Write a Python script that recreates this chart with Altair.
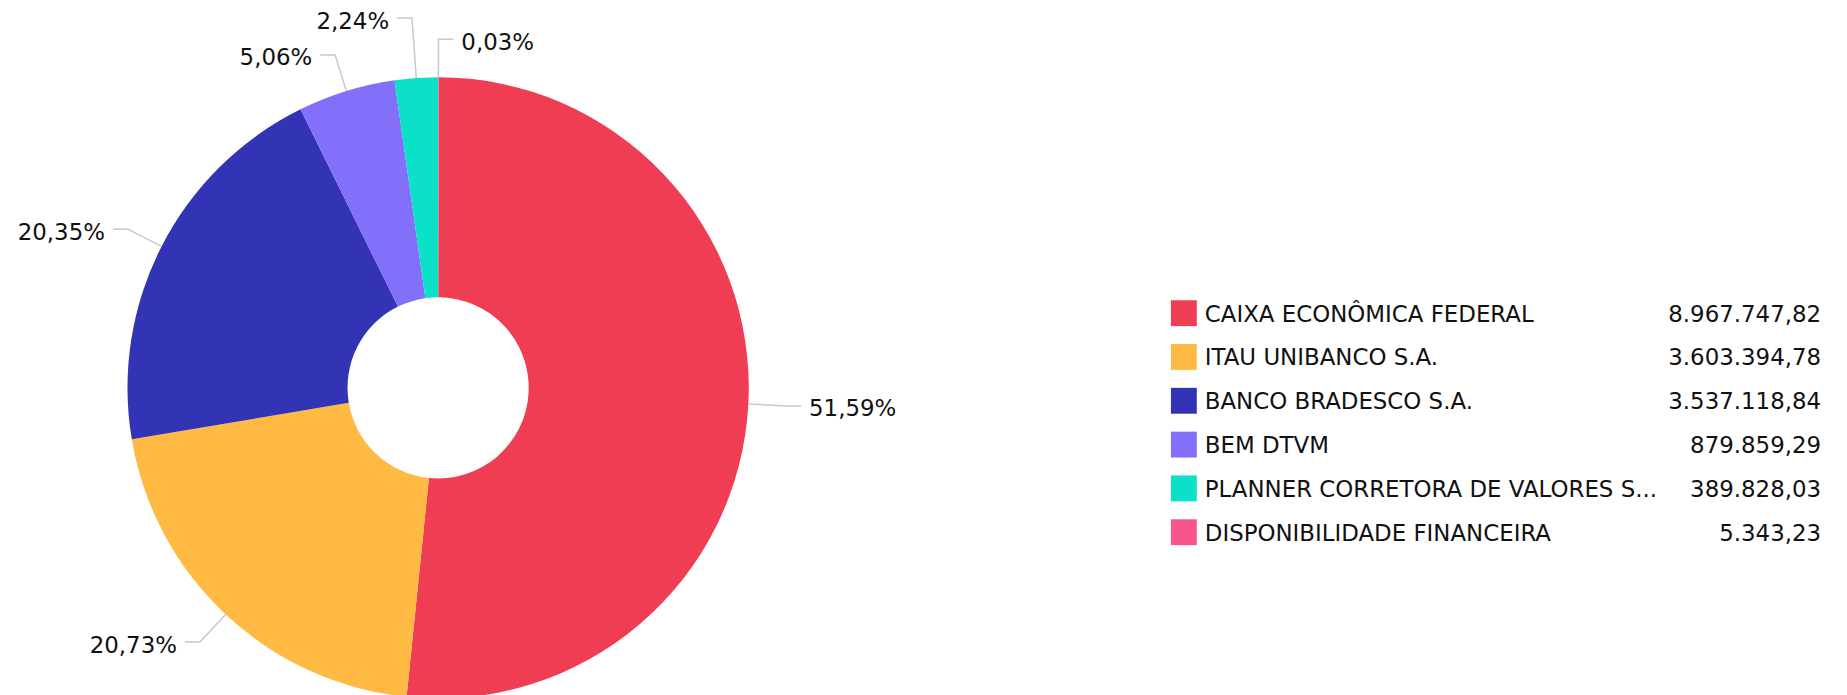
import math
import altair as alt
import pandas as pd

# ---------------- data ----------------
names = [
    "CAIXA ECONÔMICA FEDERAL",
    "ITAU UNIBANCO S.A.",
    "BANCO BRADESCO S.A.",
    "BEM DTVM",
    "PLANNER CORRETORA DE VALORES S...",
    "DISPONIBILIDADE FINANCEIRA",
]
values = [8967747.82, 3603394.78, 3537118.84, 879859.29, 389828.03, 5343.23]
colors = ["#EF3E53", "#FFBA44", "#3333B5", "#8270FB", "#0BE0C8", "#F9558D"]
# position of each slice around the ring, clockwise from 12 o'clock
ring_order = [1, 2, 3, 4, 5, 0]

# ---------------- layout ----------------
PAD_TOP = 12
W, H = 1839, 687 - PAD_TOP
CX, CY = 432, 380 - PAD_TOP
R_OUT, R_IN = 312, 91
LEAD, ARM, GAP, MIN_SEP = 38, 15, 8, 37
FONT = "DejaVu Sans"
FS = 23
TDY = 3.5

total = sum(values)
pct = [v / total * 100 for v in values]


def br_pct(p):
    return f"{p:.2f}".replace(".", ",") + "%"


def br_num(v):
    s = f"{v:,.2f}"
    return s.replace(",", "X").replace(".", ",").replace("X", ".")


# mid angles
order_idx = sorted(range(len(values)), key=lambda i: ring_order[i])
cum = 0.0
mid = {}
for i in order_idx:
    f = values[i] / total
    mid[i] = cum + f / 2
    cum += f

labels = []
for i in range(len(values)):
    a = 2 * math.pi * mid[i]
    dx, dy = math.sin(a), -math.cos(a)
    ex, ey = CX + R_OUT * dx, CY + R_OUT * dy
    ny = CY + (R_OUT + LEAD) * dy
    side = "right" if dx >= 0 else "left"
    labels.append(dict(i=i, dx=dx, dy=dy, ex=ex, ey=ey, ty=ny, side=side))

# simple anti-overlap per side: push upward labels apart
for side in ("left", "right"):
    group = sorted([l for l in labels if l["side"] == side], key=lambda l: -l["ty"])
    for k in range(1, len(group)):
        if group[k - 1]["ty"] - group[k]["ty"] < MIN_SEP:
            group[k]["ty"] = group[k - 1]["ty"] - MIN_SEP

line_rows, text_rows = [], []
for l in labels:
    t = (l["ty"] - CY) / l["dy"] if abs(l["dy"]) > 1e-6 else R_OUT + LEAD
    bx, by = CX + t * l["dx"], CY + t * l["dy"]
    sgn = 1 if l["side"] == "right" else -1
    hx = bx + sgn * ARM
    name = names[l["i"]]
    line_rows += [
        dict(slice=name, step=0, x=l["ex"], y=l["ey"]),
        dict(slice=name, step=1, x=bx, y=by),
        dict(slice=name, step=2, x=hx, y=by),
    ]
    text_rows.append(dict(label=br_pct(pct[l["i"]]), x=hx + sgn * GAP, y=by + TDY, side=l["side"]))

lines_df = pd.DataFrame(line_rows)
text_df = pd.DataFrame(text_rows)

arc_df = pd.DataFrame({"name": names, "value": values, "ring": ring_order})

# legend
LX, LY0, LSTEP, SW = 1168, 292 - PAD_TOP, 44, 26
LTX, LVX = 1202, 1821
leg_df = pd.DataFrame({
    "name": names,
    "val": [br_num(v) for v in values],
    "x": [LX] * len(names),
    "x2": [LX + SW] * len(names),
    "y": [LY0 + k * LSTEP for k in range(len(names))],
    "y2": [LY0 + k * LSTEP + SW for k in range(len(names))],
    "ty": [LY0 + k * LSTEP + SW / 2 + 1.5 for k in range(len(names))],
    "tx": [LTX] * len(names),
    "vx": [LVX] * len(names),
})

xs = alt.Scale(domain=[0, W], nice=False, zero=False)
ys = alt.Scale(domain=[0, H], nice=False, zero=False, reverse=True)
cscale = alt.Scale(domain=names, range=colors)

arc = alt.Chart(arc_df).mark_arc(innerRadius=R_IN, outerRadius=R_OUT).encode(
    theta=alt.Theta("value:Q", stack=True),
    order=alt.Order("ring:Q"),
    color=alt.Color("name:N", scale=cscale, legend=None),
    x=alt.value(CX),
    y=alt.value(CY),
)

leaders = alt.Chart(lines_df).mark_line(color="#c8c8c8", strokeWidth=1.5).encode(
    x=alt.X("x:Q", scale=xs, axis=None),
    y=alt.Y("y:Q", scale=ys, axis=None),
    detail="slice:N",
    order="step:Q",
)

txt_right = alt.Chart(text_df[text_df.side == "right"]).mark_text(
    align="left", baseline="middle", font=FONT, fontSize=FS, color="#111111"
).encode(x=alt.X("x:Q", scale=xs, axis=None), y=alt.Y("y:Q", scale=ys, axis=None), text="label:N")

txt_left = alt.Chart(text_df[text_df.side == "left"]).mark_text(
    align="right", baseline="middle", font=FONT, fontSize=FS, color="#111111"
).encode(x=alt.X("x:Q", scale=xs, axis=None), y=alt.Y("y:Q", scale=ys, axis=None), text="label:N")

leg_sw = alt.Chart(leg_df).mark_rect().encode(
    x=alt.X("x:Q", scale=xs, axis=None), x2="x2:Q",
    y=alt.Y("y:Q", scale=ys, axis=None), y2="y2:Q",
    color=alt.Color("name:N", scale=cscale, legend=None),
)
leg_names = alt.Chart(leg_df).mark_text(
    align="left", baseline="middle", font=FONT, fontSize=FS, color="#111111"
).encode(x=alt.X("tx:Q", scale=xs, axis=None), y=alt.Y("ty:Q", scale=ys, axis=None), text="name:N")
leg_vals = alt.Chart(leg_df).mark_text(
    align="right", baseline="middle", font=FONT, fontSize=FS, color="#111111"
).encode(x=alt.X("vx:Q", scale=xs, axis=None), y=alt.Y("ty:Q", scale=ys, axis=None), text="val:N")

chart = alt.layer(arc, leaders, txt_right, txt_left, leg_sw, leg_names, leg_vals).properties(
    width=W, height=H, padding={"left": 0, "top": PAD_TOP, "right": 0, "bottom": 0}, autosize="none"
).configure_view(stroke=None)

chart.save("out.html", embed_options={"renderer": "svg", "actions": False})
